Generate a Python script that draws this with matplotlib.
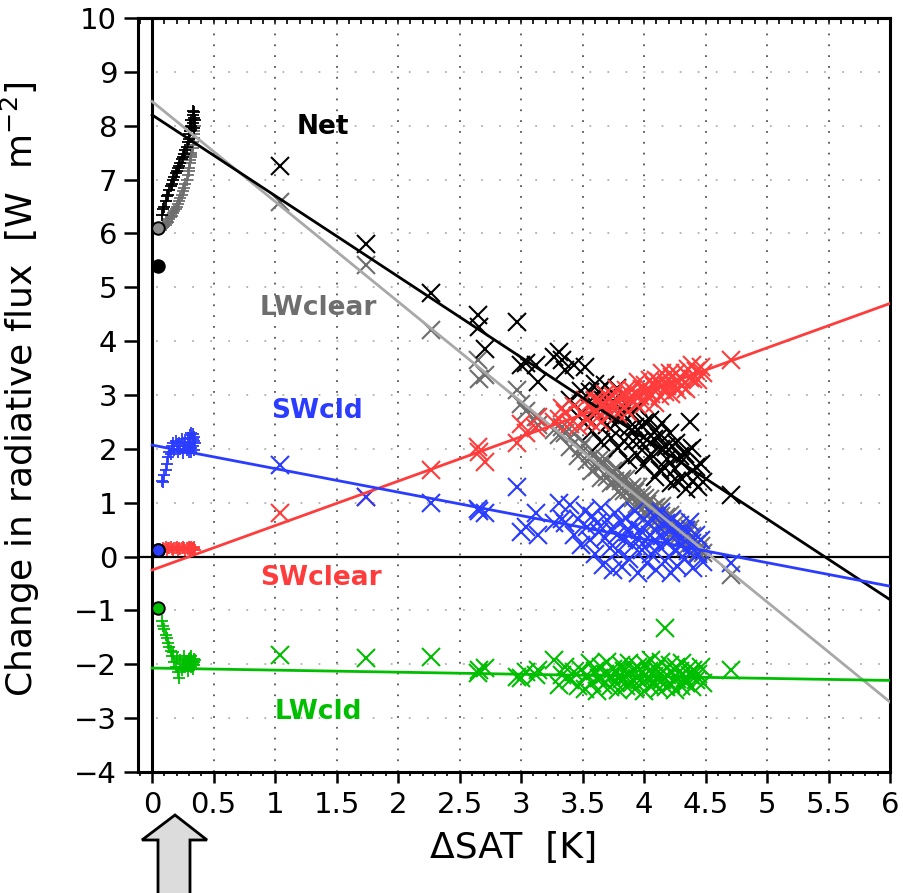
import numpy as np
import matplotlib.pyplot as plt
from matplotlib import font_manager
from matplotlib.patches import Polygon
from matplotlib.ticker import MultipleLocator, FormatStrFormatter, NullFormatter

# ---- first three years, monthly (plotted as "+") ----
early_sat = [0.08, 0.09, 0.10, 0.11, 0.12, 0.13, 0.14, 0.15, 0.16, 0.17, 0.18, 0.19,
             0.20, 0.21, 0.22, 0.23, 0.24, 0.25, 0.26, 0.27, 0.28, 0.29, 0.30, 0.30,
             0.31, 0.31, 0.32, 0.32, 0.32, 0.33, 0.33, 0.33, 0.34, 0.34, 0.34, 0.35]
early_net = [6.35, 6.45, 6.50, 6.60, 6.70, 6.72, 6.80, 6.88, 6.92, 7.00, 7.05, 7.12,
             7.15, 7.22, 7.25, 7.30, 7.38, 7.42, 7.48, 7.55, 7.60, 7.70, 7.75, 7.85,
             7.90, 7.98, 8.00, 8.10, 7.92, 8.05, 8.20, 8.28, 8.15, 7.95, 8.25, 8.10]
early_lwclr = [6.10, 6.12, 6.14, 6.16, 6.20, 6.22, 6.26, 6.30, 6.33, 6.38, 6.42, 6.46,
               6.50, 6.55, 6.60, 6.66, 6.72, 6.78, 6.85, 6.92, 7.00, 7.08, 7.15, 7.22,
               7.30, 7.36, 7.42, 7.50, 7.46, 7.58, 7.65, 7.70, 7.78, 7.85, 7.90, 8.00]
early_swcld = [1.40, 1.38, 1.52, 1.60, 1.72, 1.85, 1.95, 1.90, 2.05, 2.10, 1.98, 2.15,
               2.05, 1.95, 2.10, 2.00, 2.18, 1.92, 2.05, 2.12, 1.98, 2.20, 2.08, 1.95,
               2.25, 2.10, 2.02, 2.30, 1.94, 2.18, 2.28, 2.05, 2.15, 1.98, 2.22, 2.10]
early_swclr = [0.12, 0.15, 0.14, 0.17, 0.13, 0.16, 0.15, 0.18, 0.14, 0.12, 0.16, 0.15,
               0.17, 0.13, 0.15, 0.14, 0.16, 0.18, 0.15, 0.13, 0.16, 0.14, 0.17, 0.15,
               0.12, 0.16, 0.14, 0.18, 0.15, 0.13, 0.16, 0.15, 0.14, 0.17, 0.15, 0.13]
early_lwcld = [-1.20, -1.28, -1.35, -1.45, -1.52, -1.60, -1.68, -1.75, -1.85, -1.78, -1.95, -2.05,
               -1.88, -2.15, -2.25, -1.92, -2.10, -2.00, -1.85, -2.05, -1.95, -2.12, -1.90, -2.02,
               -1.88, -1.98, -2.05, -1.92, -1.85, -2.00, -1.95, -2.08, -1.90, -2.02, -1.96, -1.92]

# ---- annual means (plotted as "x") ----
sat = [1.04, 1.74, 2.27, 2.65, 2.66, 2.71, 2.97, 3.00, 3.04, 3.12, 3.14, 3.27, 3.31, 3.33,
       3.36, 3.40, 3.43, 3.46, 3.49, 3.52, 3.54, 3.56, 3.58, 3.60,
       3.62, 3.63, 3.65, 3.67, 3.68, 3.70, 3.72, 3.73, 3.75, 3.76,
       3.78, 3.79, 3.81, 3.82, 3.84, 3.85, 3.87, 3.88, 3.90, 3.91,
       3.93, 3.94, 3.95, 3.97, 3.98, 4.00, 4.01, 4.02, 4.04, 4.05,
       4.06, 4.08, 4.09, 4.10, 4.12, 4.13, 4.14, 4.15, 4.17, 4.18,
       4.19, 4.21, 4.22, 4.23, 4.25, 4.26, 4.27, 4.29, 4.30, 4.31,
       4.33, 4.34, 4.36, 4.37, 4.39, 4.40, 4.42, 4.44, 4.46, 4.48, 4.71]
net = [7.26, 5.81, 4.89, 4.48, 4.26, 3.85, 4.35, 3.55, 3.60, 3.55, 3.25, 3.70, 3.80, 3.65,
       3.46, 2.90, 3.55, 2.61, 3.07, 3.52, 2.59, 3.06, 2.33, 3.20,
       2.67, 3.06, 2.13, 2.90, 3.18, 2.45, 2.62, 2.21, 2.88, 2.46,
       3.13, 2.02, 2.59, 2.67, 2.14, 2.83, 1.80, 2.38, 2.65, 2.14,
       2.41, 1.89, 2.78, 2.15, 2.43, 1.70, 2.49, 2.17, 1.84, 2.53,
       1.91, 2.18, 1.47, 2.35, 2.22, 1.61, 1.99, 2.48, 1.65, 2.03,
       1.82, 2.29, 1.37, 2.06, 1.63, 2.11, 1.40, 1.87, 1.75, 1.44,
       1.91, 1.25, 1.96, 2.50, 2.02, 1.40, 1.67, 1.30, 1.71, 1.38, 1.15]
lwclr = [6.58, 5.41, 4.20, 3.65, 3.30, 3.37, 3.09, 2.84, 2.70, 2.60, 2.45, 2.35, 2.25, 2.40,
         2.30, 2.03, 2.27, 1.86, 2.01, 2.10, 1.77, 1.93, 1.59, 1.90,
         1.67, 1.80, 1.46, 1.72, 1.81, 1.47, 1.53, 1.36, 1.58, 1.41,
         1.62, 1.20, 1.41, 1.44, 1.21, 1.44, 1.05, 1.23, 1.30, 1.08,
         1.19, 0.97, 1.30, 1.02, 1.15, 0.81, 1.09, 0.97, 0.84, 1.07,
         0.85, 0.91, 0.64, 0.92, 0.89, 0.62, 0.75, 0.93, 0.59, 0.73,
         0.61, 0.77, 0.40, 0.68, 0.50, 0.63, 0.36, 0.52, 0.45, 0.33,
         0.50, 0.18, 0.44, 0.52, 0.39, 0.17, 0.23, 0.09, 0.20, 0.07, -0.34]
swcld = [1.70, 1.10, 0.99, 0.89, 0.85, 0.80, 1.29, 0.45, 0.55, 0.80, 0.40, 0.62, 0.99, 0.70,
         0.62, 0.95, 0.40, 0.70, 0.22, 0.85, 0.55, 0.30, 0.75, 0.05,
         0.62, 0.45, 0.90, -0.15, 0.35, 0.68, 0.15, 0.52, -0.25, 0.80,
         0.40, 0.10, 0.65, -0.20, 0.30, 0.72, 0.45, -0.05, 0.58, 0.20,
         0.85, 0.35, -0.30, 0.50, 0.12, 0.70, 0.28, -0.12, 0.60, 0.40,
         0.05, 0.75, 0.30, -0.25, 0.55, 0.18, 0.82, 0.38, -0.08, 0.62,
         0.25, 0.48, -0.30, 0.70, 0.12, 0.42, -0.18, 0.58, 0.20, 0.35,
         -0.05, 0.50, 0.10, 0.65, 0.25, -0.22, 0.40, 0.05, 0.30, -0.10, -0.12]
swclr = [0.80, 1.10, 1.60, 2.03, 1.95, 1.75, 2.10, 2.47, 2.30, 2.38, 2.60, 2.50, 2.55, 2.75,
         2.66, 2.46, 2.80, 2.42, 2.68, 2.90, 2.54, 2.78, 2.48, 2.90,
         2.70, 2.88, 2.50, 2.86, 3.02, 2.71, 2.82, 2.64, 2.98, 2.80,
         3.12, 2.65, 2.94, 3.00, 2.78, 3.10, 2.68, 2.95, 3.10, 2.88,
         3.04, 2.82, 3.24, 2.98, 3.12, 2.83, 3.19, 3.07, 2.95, 3.27,
         3.01, 3.16, 2.86, 3.27, 3.24, 2.98, 3.17, 3.40, 3.06, 3.24,
         3.16, 3.40, 3.01, 3.33, 3.17, 3.40, 3.09, 3.33, 3.30, 3.17,
         3.41, 3.11, 3.48, 3.31, 3.55, 3.29, 3.44, 3.28, 3.52, 3.40, 3.65]
lwcld = [-1.83, -1.88, -1.87, -2.17, -2.10, -2.07, -2.23, -2.25, -2.15, -2.20, -2.10, -1.92, -2.38, -2.20,
         -2.05, -2.30, -2.15, -2.40, -2.10, -2.45, -2.20, -1.98, -2.35, -2.12,
         -2.50, -2.25, -2.05, -2.38, -2.18, -1.95, -2.42, -2.22, -2.08, -2.33,
         -2.15, -2.48, -2.02, -2.28, -2.12, -2.40, -2.20, -1.98, -2.35, -2.10,
         -2.45, -2.25, -2.05, -2.30, -2.15, -2.50, -2.00, -2.28, -2.12, -2.40,
         -1.92, -2.22, -2.35, -2.08, -2.45, -2.18, -1.95, -2.30, -1.33, -2.42,
         -2.20, -2.02, -2.36, -2.15, -2.48, -2.05, -2.28, -2.12, -2.40, -1.98,
         -2.25, -2.35, -2.08, -2.20, -2.42, -2.10, -2.30, -2.18, -2.05, -2.35, -2.10]

# ---- first-month values (filled circles) ----
start_sat = 0.05
start_vals = {"net": 5.4, "lwclr": 6.1, "swcld": 0.12, "swclr": 0.12, "lwcld": -0.95}

# ---- regression lines, value at dSAT = 0 and dSAT = 6 ----
fit_sat = [0, 6]
fit_net = [8.2, -0.8]
fit_lwclr = [8.45, -2.7]
fit_swcld = [2.07, -0.55]
fit_swclr = [-0.25, 4.7]
fit_lwcld = [-2.07, -2.3]

BLACK = "#000000"
GRAY_PT = "#6e6e6e"
GRAY_LN = "#a8a8a8"
BLUE = "#2a3cff"
RED = "#ff3c3c"
GREEN = "#00bf00"

names = {f.name for f in font_manager.fontManager.ttflist}
narrow = [n for n in ("Liberation Sans Narrow", "DejaVu Sans Condensed") if n in names]
fam = narrow[:1] + ["DejaVu Sans"]
plt.rcParams["font.family"] = fam
plt.rcParams["mathtext.fontset"] = "dejavusans"

fig = plt.figure(figsize=(9.04, 8.93), dpi=100)
ax = fig.add_axes([138 / 904, 121 / 893, 752 / 904, 754 / 893])
ax.set_xlim(-0.115, 6)
ax.set_ylim(-4, 10)

# dotted grid
ax.set_axisbelow(True)
ax.grid(axis="x", which="major", color="#555555", linewidth=1.3, linestyle=(0, (1, 5)))
ax.grid(axis="y", which="major", color="#b0b0b0", linewidth=1.3, linestyle=(0, (1, 9)))
ax.axhline(0, color="black", lw=1.6, zorder=1)
ax.axvline(0, color="black", lw=2.2, zorder=1)

series = [
    ("lwclr", early_lwclr, lwclr, fit_lwclr, GRAY_PT, GRAY_LN),
    ("net", early_net, net, fit_net, BLACK, BLACK),
    ("swclr", early_swclr, swclr, fit_swclr, RED, RED),
    ("swcld", early_swcld, swcld, fit_swcld, BLUE, BLUE),
    ("lwcld", early_lwcld, lwcld, fit_lwcld, GREEN, GREEN),
]
for key, ey, y, fy, c, lc in series:
    ax.plot(fit_sat, fy, color=lc, lw=2.0, zorder=3)
    ax.plot(sat, y, ls="none", marker="x", ms=13, mew=1.5, color=c, zorder=2)
    ax.plot(early_sat, ey, ls="none", marker="+", ms=8, mew=1.3, color=c, zorder=2)

circ_face = {"net": BLACK, "lwclr": "#8c8c8c", "swclr": RED, "swcld": BLUE, "lwcld": GREEN}
for key in ["swclr", "lwclr", "net", "swcld", "lwcld"]:
    ax.plot([start_sat], [start_vals[key]], ls="none", marker="o", ms=9,
            mfc=circ_face[key], mec="black", mew=1.4, zorder=5, clip_on=False)

# curve labels
lab_kw = dict(fontsize=19, fontweight="bold", ha="center", va="center", zorder=6)
ax.text(1.39, 7.98, "Net", color=BLACK, **lab_kw)
ax.text(1.35, 4.62, "LWclear", color=GRAY_PT, **lab_kw)
ax.text(1.34, 2.70, "SWcld", color=BLUE, **lab_kw)
ax.text(1.37, -0.40, "SWclear", color=RED, **lab_kw)
ax.text(1.35, -2.88, "LWcld", color=GREEN, **lab_kw)

# axes and ticks
for sp in ax.spines.values():
    sp.set_linewidth(2.2)
ax.set_xticks(np.arange(0, 6.01, 0.5))
ax.xaxis.set_major_formatter(FormatStrFormatter("%g"))
ax.xaxis.set_minor_locator(MultipleLocator(0.1))
ax.set_yticks(np.arange(-4, 10.1, 1))
ax.tick_params(axis="x", which="major", direction="out", length=8, width=1.8,
               labelsize=21, pad=6)
ax.tick_params(axis="x", which="minor", direction="out", length=3, width=1.2)
ax.tick_params(axis="y", which="major", direction="out", length=10, width=1.8,
               labelsize=21, pad=5)

# short inward ticks along the top edge
top = ax.secondary_xaxis("top")
top.xaxis.set_major_locator(MultipleLocator(0.1))
top.xaxis.set_major_formatter(NullFormatter())
top.tick_params(axis="x", direction="in", length=4, width=1.2)
top.spines["top"].set_linewidth(2.2)

ax.set_xlabel("ΔSAT  [K]", fontsize=26, labelpad=8)
ax.set_ylabel("Change in radiative flux  [W  m$^{-2}$]", fontsize=26)
ax.yaxis.set_label_coords(-0.128, 0.507)

# block arrow under the start of the run
px = [(175, 815), (142, 840), (158, 840), (158, 900), (190, 900), (190, 840), (207, 840)]
arrow = Polygon([(x / 904, 1 - y / 893) for x, y in px], closed=True,
                transform=fig.transFigure, facecolor="#dcdcdc", edgecolor="black",
                lw=2.0, clip_on=False)
fig.patches.append(arrow)

fig.savefig("out.png", dpi=100)
